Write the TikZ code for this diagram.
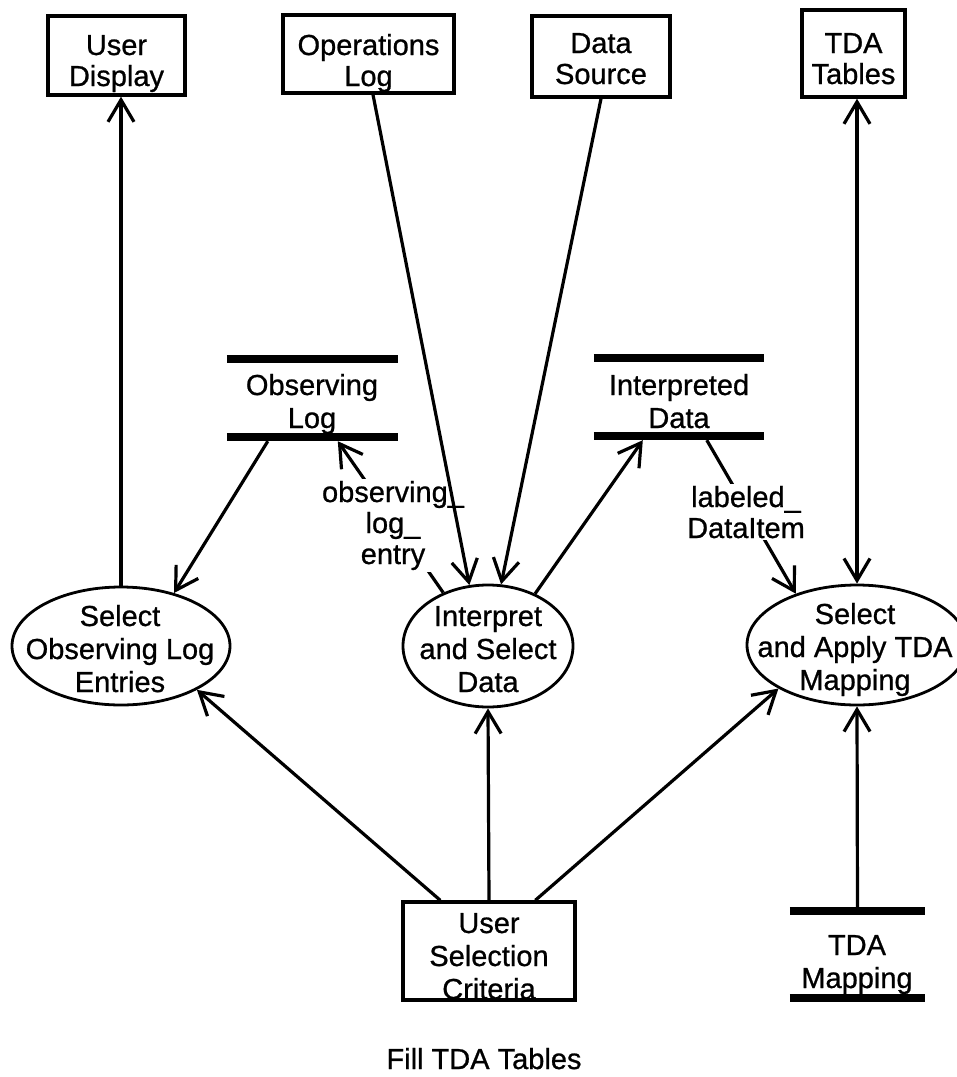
\documentclass[tikz,border=0pt]{standalone}
\usepackage{fontspec}
\setmainfont{Liberation Sans}[FakeBold=0.8]
\usetikzlibrary{arrows.meta,calc,shapes.geometric}
\begin{document}
\begin{tikzpicture}[x=1pt,y=-1pt,
  extbox/.style={draw,line width=3.4pt,inner sep=0pt},
  proc/.style={draw,ellipse,line width=2.8pt,inner sep=0pt},
  store/.style={inner sep=0pt},
  bar/.style={line width=8pt},
  flow/.style={line width=3.2pt,-{Straight Barb[length=22pt,width=26pt]}},
  biflow/.style={line width=3.2pt,{Straight Barb[length=22pt,width=26pt]}-{Straight Barb[length=22pt,width=26pt]}},
  txt/.style={font=\fontsize{29}{31}\selectfont,align=center,inner sep=0pt,anchor=base},
  ptxt/.style={font=\fontsize{29}{33}\selectfont,align=center,inner sep=0pt,anchor=base},
  lbl/.style={font=\fontsize{29}{31}\selectfont,align=center,inner sep=2pt,anchor=base,fill=white}]
\useasboundingbox (0,0) rectangle (957,1077);

% external entities
\node[extbox,minimum width=137pt,minimum height=79pt] (ud) at (116.5,55.5) {};
\node[extbox,minimum width=171pt,minimum height=78pt] (oplog) at (368.5,54) {};
\node[extbox,minimum width=138pt,minimum height=81pt] (ds) at (601,56.5) {};
\node[extbox,minimum width=103pt,minimum height=87pt] (tt) at (853.5,53.5) {};
\node[extbox,minimum width=172pt,minimum height=98pt] (usc) at (489,951) {};

% processes
\node[proc,minimum width=218pt,minimum height=118pt] (sol) at (121,646) {};
\node[proc,minimum width=170pt,minimum height=122pt] (isd) at (488,646) {};
\node[proc,minimum width=220pt,minimum height=120pt] (sat) at (857,645) {};

% data stores
\node[store,minimum width=171pt,minimum height=78pt] (obslog) at (312.5,398) {};
\node[store,minimum width=170pt,minimum height=78pt] (intdata) at (679,397) {};
\node[store,minimum width=135pt,minimum height=87pt] (tdamap) at (857.5,954.5) {};
\draw[bar] (obslog.north west) -- (obslog.north east);
\draw[bar] (obslog.south west) -- (obslog.south east);
\draw[bar] (intdata.north west) -- (intdata.north east);
\draw[bar] (intdata.south west) -- (intdata.south east);
\draw[bar] (tdamap.north west) -- (tdamap.north east);
\draw[bar] (tdamap.south west) -- (tdamap.south east);

% texts (anchor = baseline of the last line)
\node[txt] (tud) at (116.5,86) {User\\Display};
\node[txt] (toplog) at (368.5,86) {Operations\\Log};
\node[txt] (tds) at (601,84) {Data\\Source};
\node[txt] (ttt) at (853.5,84) {TDA\\Tables};
\node[ptxt] (tusc) at (489,999) {User\\Selection\\Criteria};
\node[ptxt] (tsol) at (120,692) {Select\\Observing Log\\Entries};
\node[ptxt] (tisd) at (488,692) {Interpret\\and Select\\Data};
\node[ptxt] (tsat) at (855,690) {Select\\and Apply TDA\\Mapping};
\node[ptxt] (tobs) at (312,428) {Observing\\Log};
\node[ptxt] (tint) at (679,428) {Interpreted\\Data};
\node[ptxt] (ttdm) at (857,988) {TDA\\Mapping};
\node[txt] (title) at (484,1069) {Fill TDA Tables};

% flows
\draw[flow] (sol.north) -- (sol.north |- ud.south);
\draw[flow] ($(obslog.south west)+(41,4)$) -- (sol.45);
\draw[flow] (isd.130) -- ($(obslog.south west)+(111,4)$);
\node[lbl] (lobs) at (393,564) {observing\_\\log\_\\entry};
\draw[flow] ($(oplog.south)+(4.5,0)$) -- (isd.107.6);
\draw[flow] (ds.south) -- (isd.78.9);
\draw[flow] (isd.48.4) -- ($(intdata.south west)+(49,4)$);
\draw[flow] ($(intdata.south west)+(113,4)$) -- (sat.140.4);
\node[lbl] (ldi) at (746,538) {labeled\_\\DataItem};
\draw[biflow] (sat.north) -- (sat.north |- tt.south);
\draw[flow] ($(usc.north west)+(39,0)$) -- (sol.-30);
\draw[flow] (usc.north) -- (isd.south);
\draw[flow] ($(usc.north west)+(134,0)$) -- (sat.209.6);
\draw[flow] (tdamap.north) -- (sat.south);
\end{tikzpicture}
\end{document}
